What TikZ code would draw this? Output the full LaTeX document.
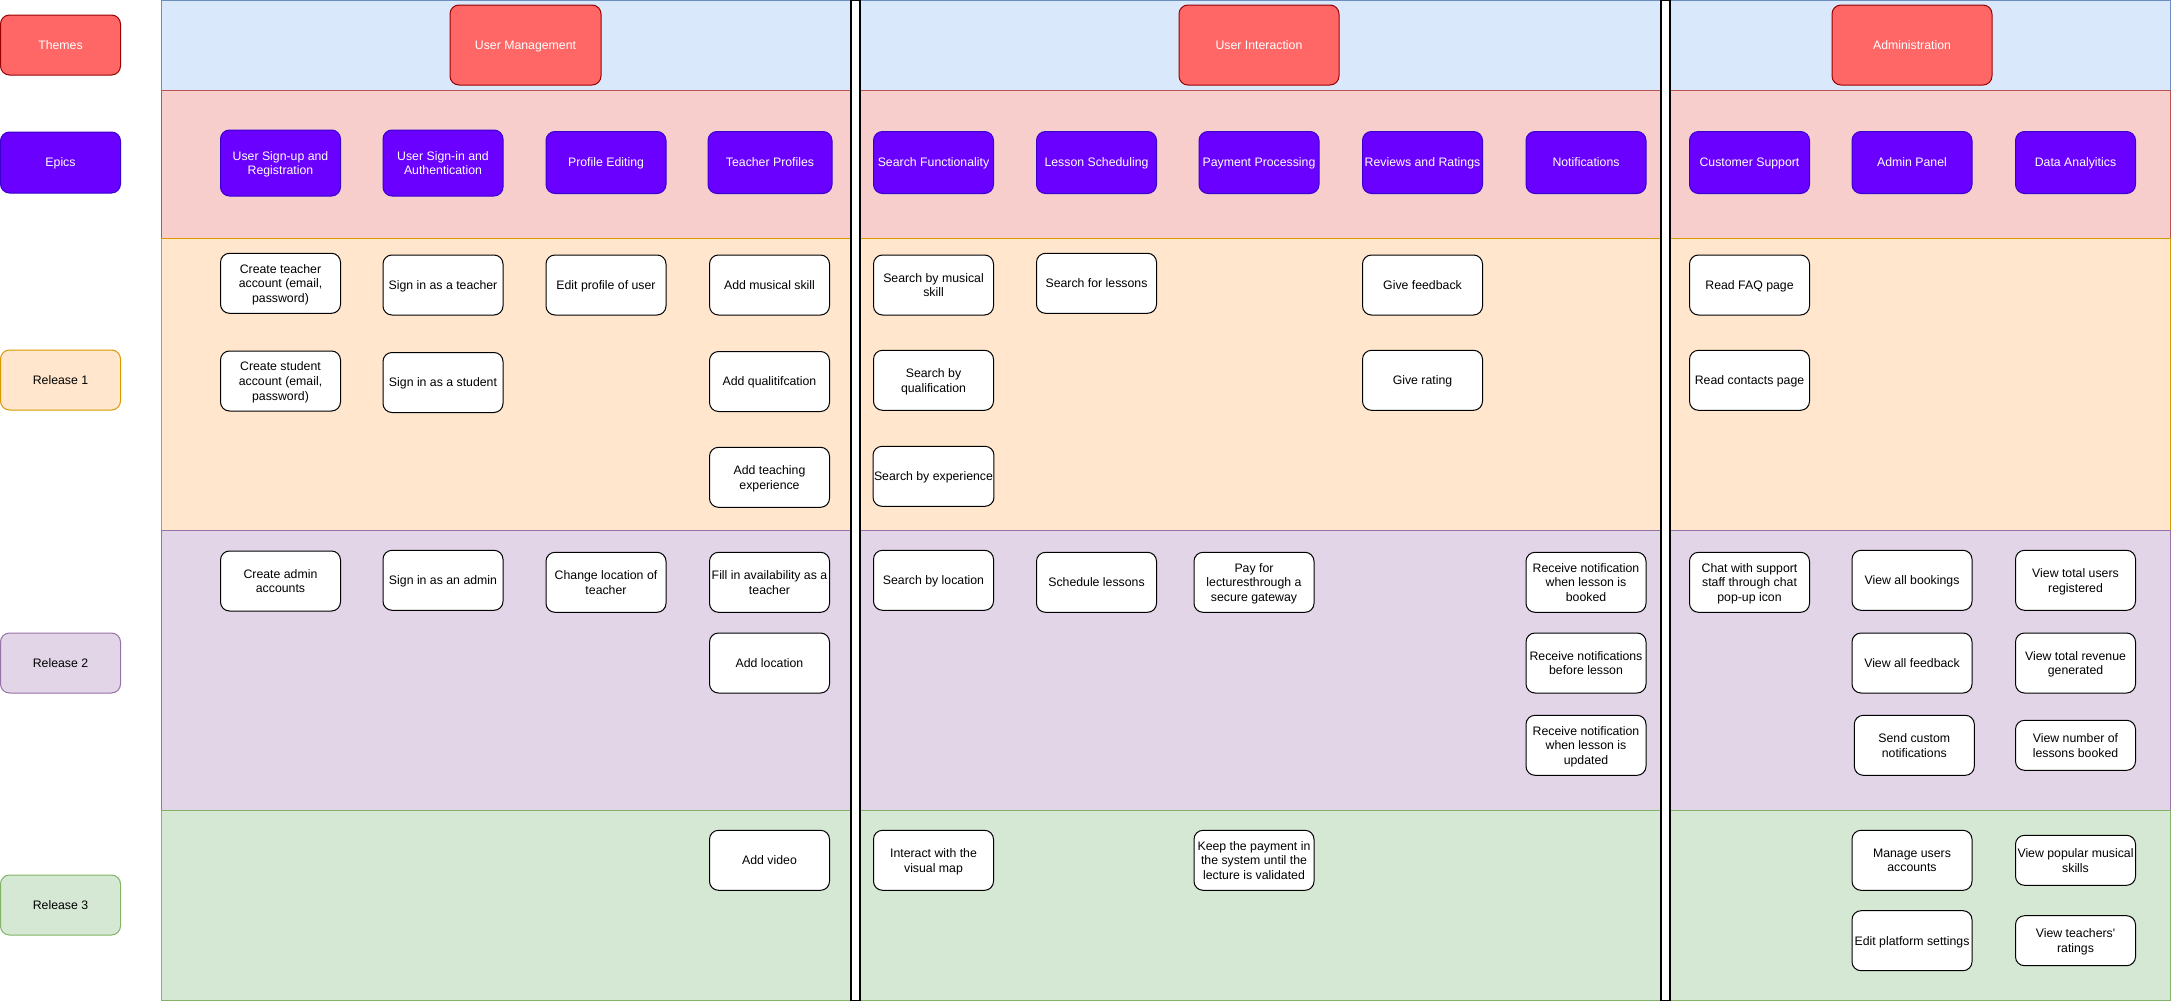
\documentclass[tikz,border=0pt]{standalone}
\usepackage{fontspec}
\setmainfont{Liberation Sans}[Ligatures=TeXOff]
\definecolor{themefill}{HTML}{FF6666}
\definecolor{themeline}{HTML}{990000}
\definecolor{epicfill}{HTML}{6A00FF}
\definecolor{epicline}{HTML}{3700CC}
\definecolor{bandblue}{HTML}{DAE8FC}
\definecolor{bandblueline}{HTML}{6C8EBF}
\definecolor{bandred}{HTML}{F8CECC}
\definecolor{bandredline}{HTML}{B85450}
\definecolor{bandorange}{HTML}{FFE6CC}
\definecolor{bandorangeline}{HTML}{D79B00}
\definecolor{bandpurple}{HTML}{E1D5E7}
\definecolor{bandpurpleline}{HTML}{9673A6}
\definecolor{bandgreen}{HTML}{D5E8D4}
\definecolor{bandgreenline}{HTML}{82B366}
\begin{document}
\begin{tikzpicture}[x=1pt,y=-1pt,
  base/.style={rounded corners=9pt, line width=1pt, align=center, inner sep=1pt,
    text depth=0pt,
    font=\fontsize{12.3}{14.6}\selectfont, minimum width=120pt, minimum height=60pt},
  card/.style={base, draw=black, fill=white, text=black},
  epic/.style={base, draw=epicline, fill=epicfill, text=white, minimum height=62pt},
  theme/.style={base, draw=themeline, fill=themefill, text=white, minimum height=80pt, minimum width=160pt},
  lbl/.style={base, text=black},
  divider/.style={draw=black, fill=white, line width=1.5pt},
]
% canvas
\useasboundingbox (0,0) rectangle (2171,1001);
\fill[white] (0,0) rectangle (2171,1001);

% horizontal bands
\filldraw[fill=bandblue, draw=bandblueline, line width=1pt] (161,0.5) rectangle (2170,90);
\filldraw[fill=bandred, draw=bandredline, line width=1pt] (161,90) rectangle (2170,238);
\filldraw[fill=bandorange, draw=bandorangeline, line width=1pt] (161,238) rectangle (2170,530);
\filldraw[fill=bandpurple, draw=bandpurpleline, line width=1pt] (161,530) rectangle (2170,810);
\filldraw[fill=bandgreen, draw=bandgreenline, line width=1pt] (161,810) rectangle (2170,1000.5);

% column separators
\filldraw[divider] (851,0.5) rectangle (860,1000.5);
\filldraw[divider] (1661,0.5) rectangle (1670,1000.5);

% row labels
\node[lbl, draw=themeline, fill=themefill, text=white] (lThemes) at (60.5,45) {Themes};
\node[lbl, draw=epicline, fill=epicfill, text=white, minimum height=61pt] (lEpics) at (60.5,162.5) {Epics};
\node[lbl, draw=bandorangeline, fill=bandorange] (lR1) at (60.5,380) {Release 1};
\node[lbl, draw=bandpurpleline, fill=bandpurple] (lR2) at (60.5,663) {Release 2};
\node[lbl, draw=bandgreenline, fill=bandgreen] (lR3) at (60.5,905) {Release 3};

% themes
\node[theme, minimum width=151pt] (tUser) at (525.5,45) {User Management};
\node[theme] (tInter) at (1259,45) {User Interaction};
\node[theme] (tAdmin) at (1912,45) {Administration};

% epics
\node[epic, minimum height=66pt] (eSignup) at (280.5,163) {User Sign-up and\\Registration};
\node[epic, minimum height=66pt] (eSignin) at (443,163) {User Sign-in and\\Authentication};
\node[epic] (eProfile) at (606,162.5) {Profile Editing};
\node[epic, minimum width=124pt] (eTeacher) at (770,162.5) {Teacher Profiles};
\node[epic] (eSearch) at (933.5,162.5) {Search Functionality};
\node[epic] (eLesson) at (1096.5,162.5) {Lesson Scheduling};
\node[epic] (ePay) at (1259,162.5) {Payment Processing};
\node[epic] (eReview) at (1422.5,162.5) {Reviews and Ratings};
\node[epic] (eNotif) at (1586,162.5) {Notifications};
\node[epic] (eSupport) at (1749.5,162.5) {Customer Support};
\node[epic] (ePanel) at (1912,162.5) {Admin Panel};
\node[epic] (eData) at (2075.5,162.5) {Data Analyitics};

% release 1
\node[card] (ctTeacher) at (280.5,283.3) {Create teacher\\account (email,\\password)};
\node[card] (siTeacher) at (443,285) {Sign in as a teacher};
\node[card] (editProfile) at (606,285) {Edit profile of user};
\node[card] (addSkill) at (769.5,285) {Add musical skill};
\node[card] (ctStudent) at (280.5,381) {Create student\\account (email,\\password)};
\node[card] (siStudent) at (443,382.5) {Sign in as a student};
\node[card] (addQual) at (769.5,381.5) {Add qualitifcation};
\node[card] (addExp) at (769.5,477.3) {Add teaching\\experience};
\node[card] (sSkill) at (933.5,285) {Search by musical\\skill};
\node[card] (sLessons) at (1096.5,283.3) {Search for lessons};
\node[card] (giveFb) at (1422.5,285) {Give feedback};
\node[card] (sQual) at (933.5,380.3) {Search by\\qualification};
\node[card] (giveRating) at (1422.5,380.3) {Give rating};
\node[card] (sExp) at (933.5,476.3) {Search by experience};
\node[card] (faq) at (1749.5,285) {Read FAQ page};
\node[card] (contacts) at (1749.5,380.3) {Read contacts page};

% release 2
\node[card] (ctAdmin) at (280.5,581) {Create admin\\accounts};
\node[card] (siAdmin) at (443,580.3) {Sign in as an admin};
\node[card] (changeLoc) at (606,582.3) {Change location of\\teacher};
\node[card] (fillAvail) at (769.5,582.3) {Fill in availability as a\\teacher};
\node[card] (addLoc) at (769.5,663) {Add location};
\node[card] (sLoc) at (933.5,580.3) {Search by location};
\node[card] (schedule) at (1096.5,582.3) {Schedule lessons};
\node[card] (payGate) at (1254,582.3) {Pay for\\lecturesthrough a\\secure gateway};
\node[card] (rnBooked) at (1586,582.3) {Receive notification\\when lesson is\\booked};
\node[card] (rnBefore) at (1586,663) {Receive notifications\\before lesson};
\node[card] (rnUpdated) at (1586,745.3) {Receive notification\\when lesson is\\updated};
\node[card] (chat) at (1749.5,582.3) {Chat with support\\staff through chat\\pop-up icon};
\node[card] (allBookings) at (1912,580.3) {View all bookings};
\node[card] (totalUsers) at (2075.5,580.3) {View total users\\registered};
\node[card] (allFb) at (1912,663) {View all feedback};
\node[card] (totalRev) at (2075.5,663) {View total revenue\\generated};
\node[card] (sendNotif) at (1914.3,745.3) {Send custom\\notifications};
\node[card, minimum height=50pt] (nLessons) at (2075.5,745.3) {View number of\\lessons booked};

% release 3
\node[card] (addVideo) at (769.5,860.3) {Add video};
\node[card] (visMap) at (933.5,860.3) {Interact with the\\visual map};
\node[card] (keepPay) at (1254,860.3) {Keep the payment in\\the system until the\\lecture is validated};
\node[card] (manage) at (1912,860.3) {Manage users\\accounts};
\node[card, minimum height=50pt] (popular) at (2075.5,860.3) {View popular musical\\skills};
\node[card] (settings) at (1912,940.7) {Edit platform settings};
\node[card, minimum height=50pt] (tRatings) at (2075.5,940.7) {View teachers'\\ratings};
\end{tikzpicture}
\end{document}
